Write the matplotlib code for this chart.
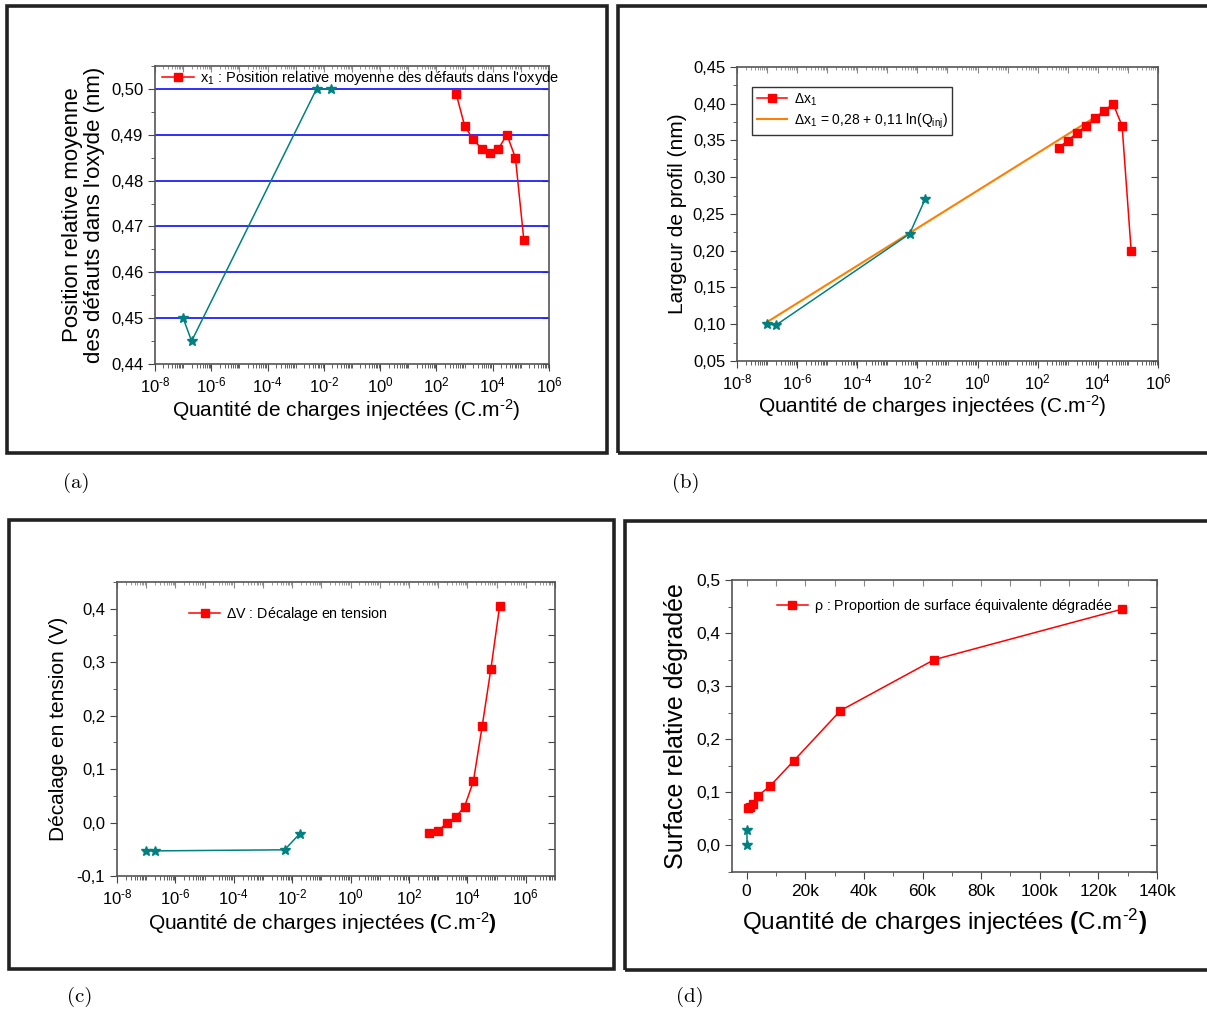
import numpy as np
import matplotlib
matplotlib.use("Agg")
import matplotlib.pyplot as plt
from matplotlib.patches import Rectangle
from matplotlib.ticker import LogLocator, MultipleLocator, FuncFormatter, NullFormatter

plt.rcParams['font.family'] = ['Liberation Sans', 'DejaVu Sans']
plt.rcParams['mathtext.fontset'] = 'custom'
plt.rcParams['mathtext.rm'] = 'Liberation Sans'
plt.rcParams['mathtext.it'] = 'Liberation Sans:italic'
plt.rcParams['mathtext.bf'] = 'Liberation Sans:bold'
plt.rcParams['mathtext.default'] = 'regular'

# Données
q_teal = [1e-7, 2e-7, 5.5e-3, 1.8e-2]
q_red = [500, 1000, 2000, 4000, 8000, 16000, 32000, 64000, 128000]

x1_teal = [0.450, 0.445, 0.500, 0.500]
x1_red = [0.499, 0.492, 0.489, 0.487, 0.486, 0.487, 0.490, 0.485, 0.467]

dx_teal = [0.100, 0.099, 0.223, 0.270]
dx_red = [0.340, 0.350, 0.360, 0.370, 0.380, 0.390, 0.400, 0.370, 0.200]
fit_q = [1e-7, 3.2e4]
fit_dx = [0.103, 0.397]

dv_teal = [-0.053, -0.053, -0.051, -0.021]
dv_red = [-0.020, -0.016, 0.000, 0.010, 0.030, 0.077, 0.180, 0.288, 0.406]

rho_q_teal = [0, 0]
rho_teal = [0.000, 0.030]
rho_red = [0.070, 0.072, 0.079, 0.094, 0.112, 0.159, 0.254, 0.350, 0.445]

RED = '#ff0000'
TEAL = '#008080'
ORANGE = '#ff8000'

W, H = 1207, 1014
fig = plt.figure(figsize=(W / 100, H / 100), dpi=100)

XLAB = r'Quantité de charges injectées (C.m$^{\text{-}2}$)'
XLAB_B = r'Quantité de charges injectées $\mathbf{(}$C.m$^{\text{-}2}$$\mathbf{)}$'


def px_axes(l, t, r, b):
    return fig.add_axes([l / W, 1 - b / H, (r - l) / W, (b - t) / H])


def frame(l, t, r, b):
    fig.patches.append(Rectangle((l / W, 1 - b / H), (r - l) / W, (b - t) / H,
                                 transform=fig.transFigure, fill=False,
                                 edgecolor='#222222', lw=2.6))


def comma(fmt):
    return FuncFormatter(lambda v, p: (fmt % v).replace('.', ','))


def log_x(ax, lo, hi):
    ax.set_xscale('log')
    ax.set_xlim(lo, hi)
    ax.xaxis.set_major_locator(LogLocator(base=100, numticks=20))
    ax.xaxis.set_minor_locator(LogLocator(base=10, subs=np.arange(1, 10), numticks=40))
    ax.xaxis.set_minor_formatter(NullFormatter())
    ax.xaxis.set_major_formatter(
        FuncFormatter(lambda v, p: r'$10^{\text{%d}}$' % round(np.log10(v))))


def style(ax, yticks, tsize=12):
    for s in ax.spines.values():
        s.set_color('#555555')
        s.set_linewidth(1.2)
    ax.tick_params(which='both', direction='out', top=False, right=False,
                   labelsize=tsize, color='#444444')
    ax.tick_params(which='major', length=5)
    ax.tick_params(which='minor', length=3)
    # ticks intérieurs à droite et en haut
    sec = ax.secondary_yaxis('right')
    sec.set_yticks(yticks)
    sec.tick_params(direction='in', length=5, labelright=False, color='#444444')
    sec.spines['right'].set_visible(False)
    top = ax.secondary_xaxis('top')
    top.tick_params(which='both', direction='in', labeltop=False, color='#888888')
    top.tick_params(which='major', length=4)
    top.tick_params(which='minor', length=2)
    top.spines['top'].set_visible(False)
    if ax.get_xscale() == 'log':
        top.xaxis.set_major_locator(LogLocator(base=10, numticks=20))
        top.xaxis.set_minor_locator(LogLocator(base=10, subs=np.arange(2, 10), numticks=40))
        top.xaxis.set_minor_formatter(NullFormatter())
    else:
        top.xaxis.set_major_locator(MultipleLocator(10000))


# Cadres
frame(7, 6, 607, 453)
frame(618, 6, 1230, 453)
frame(9, 520, 614, 969)
frame(625, 521, 1230, 970)

for txt, x, y in [('(a)', 76, 483), ('(b)', 686, 483), ('(c)', 80, 997), ('(d)', 690, 997)]:
    fig.text(x / W, 1 - y / H, txt, family='cmr10', fontsize=15, ha='center', va='center')

# (a)
ax = px_axes(155, 66, 549, 364)
log_x(ax, 1e-8, 1e6)
ax.set_ylim(0.44, 0.505)
ax.yaxis.set_major_locator(MultipleLocator(0.01))
ax.yaxis.set_minor_locator(MultipleLocator(0.005))
ax.yaxis.set_major_formatter(comma('%.2f'))
for yv in np.arange(0.45, 0.501, 0.01):
    ax.axhline(yv, color='#1f1fff', lw=1.3, zorder=1)
ax.plot(q_teal, x1_teal, color=TEAL, lw=1.1, marker='*', ms=7, zorder=3)
ax.plot(q_red, x1_red, color=RED, lw=1.1, marker='s', ms=6, zorder=3,
        label=r"x$_1$ : Position relative moyenne des défauts dans l'oxyde")
ax.legend(loc='upper left', frameon=False, fontsize=10.5, handlelength=2.2,
          borderaxespad=0.1, handletextpad=0.4, bbox_to_anchor=(0.0, 1.015))
ax.set_xlabel(XLAB, fontsize=15, labelpad=2)
ax.xaxis.set_label_coords(0.485, -0.11)
ax.set_ylabel("Position relative moyenne\ndes défauts dans l'oxyde (nm)", fontsize=16,
              linespacing=1.1, labelpad=4)
style(ax, np.arange(0.44, 0.505, 0.01))

# (b)
ax = px_axes(737, 67, 1158, 361)
log_x(ax, 1e-8, 1e6)
ax.set_ylim(0.05, 0.45)
ax.yaxis.set_major_locator(MultipleLocator(0.05))
ax.yaxis.set_minor_locator(MultipleLocator(0.025))
ax.yaxis.set_major_formatter(comma('%.2f'))
ax.plot(q_teal, dx_teal, color=TEAL, lw=1.1, marker='*', ms=7, zorder=3)
ax.plot(q_red, dx_red, color=RED, lw=1.1, marker='s', ms=6, zorder=3,
        label=r'$\Delta$x$_1$')
ax.plot(fit_q, fit_dx, color=ORANGE, lw=1.5, zorder=2,
        label=r'$\Delta$x$_1$ = 0,28 + 0,11 ln(Q$_{inj}$)')
leg = ax.legend(loc='upper left', fontsize=10, handlelength=2.2, fancybox=False,
                edgecolor='#333333', framealpha=1, borderpad=0.3, labelspacing=0.25,
                handletextpad=0.5, bbox_to_anchor=(0.02, 0.955))
leg.get_frame().set_linewidth(1.0)
ax.set_xlabel(XLAB, fontsize=15, labelpad=2)
ax.xaxis.set_label_coords(0.465, -0.11)
ax.set_ylabel('Largeur de profil (nm)', fontsize=15, labelpad=4)
style(ax, np.arange(0.05, 0.451, 0.05))

# (c)
ax = px_axes(117, 582, 555, 876)
log_x(ax, 1e-8, 1e7)
ax.set_xticks([1e-8, 1e-6, 1e-4, 1e-2, 1e0, 1e2, 1e4, 1e6])
ax.set_ylim(-0.1, 0.45)
ax.yaxis.set_major_locator(MultipleLocator(0.1))
ax.yaxis.set_minor_locator(MultipleLocator(0.05))
ax.yaxis.set_major_formatter(comma('%.1f'))
ax.plot(q_teal, dv_teal, color=TEAL, lw=1.1, marker='*', ms=7, zorder=3)
ax.plot(q_red, dv_red, color=RED, lw=1.1, marker='s', ms=6, zorder=3,
        label=r'$\Delta$V : Décalage en tension')
ax.legend(loc='upper left', frameon=False, fontsize=10.3, handlelength=2.2,
          handletextpad=0.4, bbox_to_anchor=(0.135, 0.965))
ax.set_xlabel(XLAB_B, fontsize=15, labelpad=2)
ax.xaxis.set_label_coords(0.468, -0.115)
ax.set_ylabel('Décalage en tension (V)', fontsize=15, labelpad=6)
style(ax, np.arange(-0.1, 0.451, 0.05))

# (d)
ax = px_axes(732, 580, 1157, 872)
ax.set_xlim(-5000, 140000)
ax.set_ylim(-0.05, 0.5)
ax.xaxis.set_major_locator(MultipleLocator(20000))
ax.xaxis.set_minor_locator(MultipleLocator(10000))
ax.xaxis.set_major_formatter(FuncFormatter(lambda v, p: '0' if v == 0 else '%dk' % (v / 1000)))
ax.yaxis.set_major_locator(MultipleLocator(0.1))
ax.yaxis.set_minor_locator(MultipleLocator(0.05))
ax.yaxis.set_major_formatter(comma('%.1f'))
ax.plot(rho_q_teal, rho_teal, color=TEAL, lw=1.1, marker='*', ms=7, zorder=3)
ax.plot(q_red, rho_red, color=RED, lw=1.1, marker='s', ms=6, zorder=3,
        label=r'$\rho$ : Proportion de surface équivalente dégradée')
ax.legend(loc='upper left', frameon=False, fontsize=10.3, handlelength=2.2,
          handletextpad=0.4, bbox_to_anchor=(0.075, 0.985))
ax.set_xlabel(XLAB_B, fontsize=17.5, labelpad=6)
ax.set_ylabel('Surface relative dégradée', fontsize=18, labelpad=6)
style(ax, np.arange(-0.05, 0.51, 0.05), tsize=12.5)

fig.savefig('out.png', dpi=100)
